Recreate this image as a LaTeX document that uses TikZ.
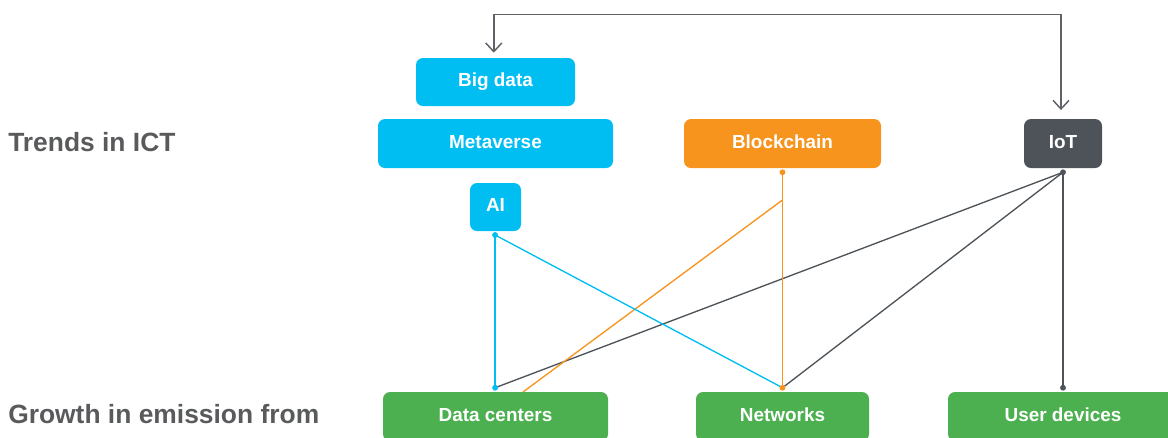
\documentclass[tikz,border=0pt]{standalone}
\usepackage{fontspec}
\setmainfont{Liberation Sans}
\usetikzlibrary{arrows.meta}
\definecolor{ictblue}{HTML}{00BEF2}
\definecolor{ictorange}{HTML}{F7941D}
\definecolor{ictdark}{HTML}{4D5358}
\definecolor{ictgreen}{HTML}{4CB050}
\definecolor{labelgray}{HTML}{595A5C}
\definecolor{loopgray}{HTML}{5F6368}
\begin{document}
\begin{tikzpicture}[x=0.75pt,y=-0.75pt,
  box/.style={rounded corners=5.25pt, inner sep=0pt, text=white,
    font=\fontsize{14.2}{16}\selectfont\bfseries,
    text height=10pt, text depth=3pt},
  rowlabel/.style={anchor=base west, inner sep=0pt, text=labelgray,
    font=\fontsize{19.8}{22}\selectfont\bfseries},
  link/.style={line width=1pt},
  dot/.style={circle, inner sep=0pt, minimum size=4.4pt},
  loop/.style={draw=loopgray, line width=1.1pt,
    {Straight Barb[length=6.5pt,width=12pt,line width=1.1pt]}-{Straight Barb[length=6.5pt,width=12pt,line width=1.1pt]}}]
\useasboundingbox (0,0) rectangle (1168,437);
\clip (0,0) rectangle (1168,437);

% row labels
\node[rowlabel] (trends) at (8,151.7) {Trends in ICT};
\node[rowlabel] (growth) at (8,423.3) {Growth in emission from};

% ICT trends
\node[box, fill=ictblue, minimum width=119.25pt, minimum height=36pt] (bigdata) at (495.5,82) {Big data};
\node[box, fill=ictblue, minimum width=176.25pt, minimum height=36.75pt] (meta) at (495.5,143.5) {Metaverse};
\node[box, fill=ictblue, minimum width=38.25pt, minimum height=36pt] (ai) at (495.5,207) {AI};
\node[box, fill=ictorange, minimum width=147.75pt, minimum height=36.75pt] (bc) at (782.5,143.5) {Blockchain};
\node[box, fill=ictdark, minimum width=58.5pt, minimum height=36.75pt] (iot) at (1063,143.5) {IoT};

% emission sources
\node[box, fill=ictgreen, minimum width=168.75pt, minimum height=36.75pt] (dc) at (495.5,416.5) {Data centers};
\node[box, fill=ictgreen, minimum width=129.75pt, minimum height=36.75pt] (nw) at (782.5,416.5) {Networks};
\node[box, fill=ictgreen, minimum width=172.5pt, minimum height=36.75pt] (ud) at (1063,416.5) {User devices};

% connector end points
\coordinate (aiS) at ([xshift=-0.3pt,yshift=-2.8pt]ai.south);
\coordinate (bcS) at ([yshift=-3pt]bc.south);
\coordinate (iotS) at ([yshift=-3pt]iot.south);
\coordinate (dcN) at ([xshift=-0.3pt,yshift=3pt]dc.north);
\coordinate (nwN) at ([yshift=3pt]nw.north);
\coordinate (udN) at ([yshift=3pt]ud.north);
\coordinate (bcJ) at (782.5,200);
\coordinate (dcE) at (523,392);
\coordinate (loopTop) at (780,14.7);

% feedback loop between IoT and Big data
\draw[loop] ([xshift=-1.3pt,yshift=3.75pt]bigdata.north) |- (loopTop) -| ([xshift=-1.5pt,yshift=6.5pt]iot.north);

% links
\draw[link, ictdark] (iotS) -- (dcN);
\draw[link, ictdark] (iotS) -- (nwN);
\draw[link, ictdark] (iotS) -- (udN);
\draw[link, ictorange] (bcS) -- (nwN);
\draw[link, ictorange] (bcJ) -- (dcE);
\draw[link, ictblue] (aiS) -- (dcN);
\draw[link, ictblue] (aiS) -- (nwN);

% link dots
\node[dot, fill=ictblue] (d1) at (aiS) {};
\node[dot, fill=ictblue] (d2) at (dcN) {};
\node[dot, fill=ictorange] (d3) at (bcS) {};
\node[dot, fill=ictorange] (d4) at (nwN) {};
\node[dot, fill=ictdark] (d5) at (iotS) {};
\node[dot, fill=ictdark] (d6) at (udN) {};
\end{tikzpicture}
\end{document}
